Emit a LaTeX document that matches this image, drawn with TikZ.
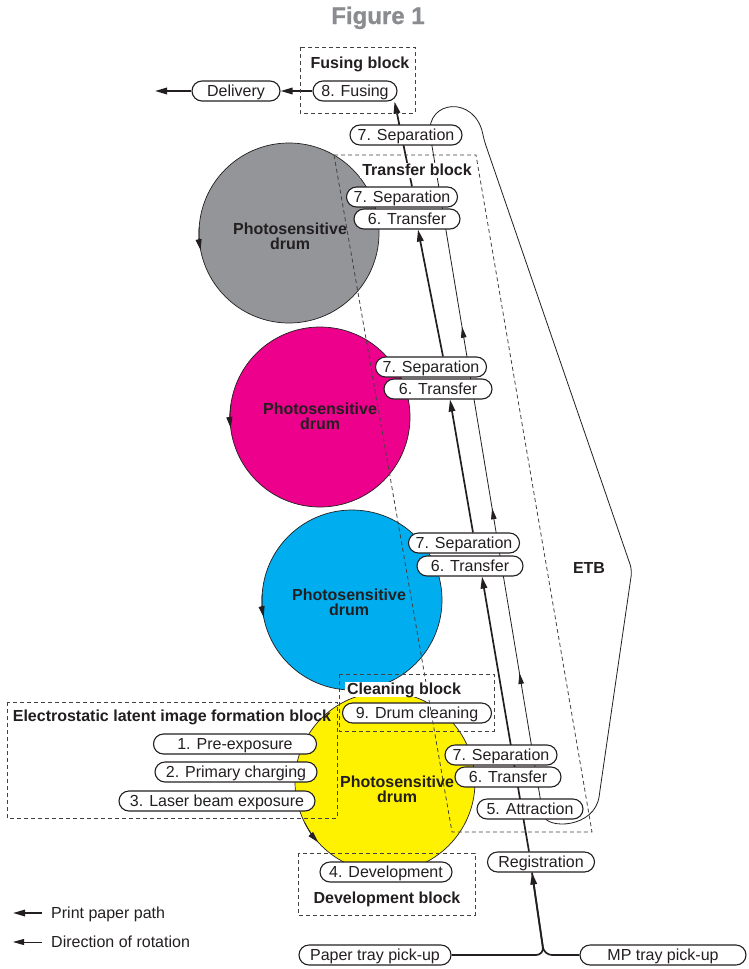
\documentclass[tikz,border=0pt]{standalone}
\usepackage{fontspec}
\setmainfont{Liberation Sans}
\newfontfamily\titlefont{Liberation Sans}[FakeBold=1]
\usetikzlibrary{arrows.meta,backgrounds,decorations.markings}
\definecolor{drumgray}{HTML}{939598}
\definecolor{drummagenta}{HTML}{EC008C}
\definecolor{drumcyan}{HTML}{00AEEF}
\definecolor{drumyellow}{HTML}{FFF200}
\definecolor{titlegray}{HTML}{8A8C8F}
\definecolor{ink}{HTML}{231F20}

\begin{document}
\begin{tikzpicture}[x=1pt,y=1pt,
  every node/.style={font=\fontsize{16}{15}\selectfont, text=ink},
  proc/.style={draw=ink, line width=1.1pt, fill=white, rounded corners=10pt, minimum height=20pt, inner sep=0pt, text height=11pt, text depth=0pt},
  blocklbl/.style={font=\fontsize{16}{15}\selectfont\bfseries, inner sep=2pt, text height=11pt, text depth=0pt},
  drum/.style={circle, draw=ink, line width=0.7pt, minimum size=180pt, inner sep=0pt, outer sep=0pt},
  drumlbl/.style={font=\fontsize{16}{15}\selectfont\bfseries, align=center, inner sep=0pt},
  blockline/.style={draw=ink!85, line width=0.8pt, dash pattern=on 4pt off 3pt},
  paperpath/.style={draw=ink, line width=1.7pt, -{Triangle[length=12pt,width=6.5pt]}},
  rotpath/.style={draw=ink, line width=0.8pt, -{Triangle[length=11pt,width=6pt]}},
  belttip/.style={decoration={markings,
    mark=at position 144pt with {\arrow{Triangle[length=11pt,width=5.5pt]}},
    mark=at position 311pt with {\arrow{Triangle[length=11pt,width=5.5pt]}},
    mark=at position 495pt with {\arrow{Triangle[length=11pt,width=5.5pt]}}},
    postaction={decorate}},
  ]
\useasboundingbox (0,0) rectangle (748,-969);

\node[font=\titlefont\bfseries\fontsize{24}{24}\selectfont, text=titlegray, text height=17pt, text depth=0pt] (title) at (378,-15.5) {Figure 1};

\node[drum, fill=drumgray] (gray) at (289,-233) {};
\node[drum, fill=drummagenta] (magenta) at (320,-417) {};
\node[drum, fill=drumcyan] (cyan) at (352,-600) {};
\node[drum, fill=drumyellow] (yellow) at (385,-782) {};
\draw[rotpath] (gray.176) arc[start angle=176, end angle=191, radius=90];
\draw[rotpath] (magenta.172) arc[start angle=172, end angle=187, radius=90];
\draw[rotpath] (cyan.176) arc[start angle=176, end angle=191, radius=90];
\draw[rotpath] (yellow.207) arc[start angle=207, end angle=222, radius=90];
\node[drumlbl] (graylbl) at (290,-236.5) {Photosensitive\\drum};
\node[drumlbl] (magentalbl) at (320,-416) {Photosensitive\\drum};
\node[drumlbl] (cyanlbl) at (349,-602) {Photosensitive\\drum};
\node[drumlbl] (yellowlbl) at (397,-789.5) {Photosensitive\\drum};

\node[proc, minimum width=88] (deliv) at (236,-91) {Delivery};
\node[proc, minimum width=84] (fusing) at (355,-91) {8. Fusing};
\node[proc, minimum width=112] (septop) at (406,-135) {7. Separation};
\node[proc, minimum width=111] (sepgray) at (402,-197) {7. Separation};
\node[proc, minimum width=106] (trgray) at (407,-219) {6. Transfer};
\node[proc, minimum width=111] (sepmag) at (431,-367) {7. Separation};
\node[proc, minimum width=108] (trmag) at (438,-389) {6. Transfer};
\node[proc, minimum width=111] (sepcyan) at (464,-543) {7. Separation};
\node[proc, minimum width=106] (trcyan) at (470,-566) {6. Transfer};
\node[proc, minimum width=112] (sepyel) at (501,-755) {7. Separation};
\node[proc, minimum width=106] (tryel) at (508,-777) {6. Transfer};
\node[proc, minimum width=106] (attract) at (530,-809) {5. Attraction};
\node[proc, minimum width=107] (regist) at (541,-862) {Registration};
\node[proc, minimum width=152] (paper) at (375,-955) {Paper tray pick-up};
\node[proc, minimum width=166] (mptray) at (663,-955) {MP tray pick-up};
\node[proc, minimum width=132] (develop) at (386,-872) {4. Development};
\node[proc, minimum width=149] (cleaning) at (417,-713) {9. Drum cleaning};
\node[proc, minimum width=163] (preexp) at (235,-744) {1. Pre-exposure};
\node[proc, minimum width=162] (charging) at (236,-772) {2. Primary charging};
\node[proc, minimum width=196] (laser) at (217,-801) {3. Laser beam exposure};

\draw[blockline] (300,-47) rectangle (415,-113);
\draw[blockline] (334,-155) -- (476,-155) -- (592,-832) -- (452,-832) -- cycle;
\draw[blockline] (339,-674) rectangle (494,-731);
\draw[blockline] (7,-702) rectangle (337,-818);
\draw[blockline] (298,-853) rectangle (475,-915);

\node[blocklbl] (fuslbl) at (360,-63) {Fusing block};
\node[blocklbl, fill=white] (trlbl) at (417,-170) {Transfer block};
\node[blocklbl, fill=white] (cllbl) at (404,-689) {Cleaning block};
\node[blocklbl] (eslbl) at (172,-716) {Electrostatic latent image formation block};
\node[blocklbl] (devlbl) at (387,-898) {Development block};
\node[blocklbl] (etb) at (589,-568) {ETB};

\node[anchor=west, inner sep=0pt, text height=11pt, text depth=0pt] (lgpaper) at (51,-913) {Print paper path};
\node[anchor=west, inner sep=0pt, text height=11pt, text depth=0pt] (lgrot) at (51,-942) {Direction of rotation};
\draw[paperpath] ([xshift=-9pt]lgpaper.west) -- ++(-29,0);
\draw[rotpath] ([xshift=-9pt]lgrot.west) -- ++(-29,0);

\begin{scope}[on background layer]
\draw[draw=ink, line width=0.8pt, rounded corners=6pt, belttip] (543,-815) -- (431,-140) .. controls (426,-100) and (475,-95) .. (484,-140) -- (632,-570) -- (600,-790) .. controls (595,-828) and (547,-830) .. (543,-815);
\coordinate (junct) at (544,-955);
\draw[paperpath, rounded corners=8pt] (paper.east) -- (junct) -- ([xshift=-9pt]regist.south);
\draw[paperpath, -, rounded corners=8pt] (mptray.west) -- (junct) -- ([xshift=-9pt]regist.south);
\draw[paperpath] ([xshift=-12pt]regist.north) -- ([xshift=12pt]trcyan.south);
\draw[paperpath] ([xshift=9pt]sepcyan.north) -- ([xshift=12pt]trmag.south);
\draw[paperpath] ([xshift=12pt]sepmag.north) -- ([xshift=11pt]trgray.south);
\draw[paperpath] ([xshift=10pt]sepgray.north) -- ([xshift=-3pt]fusing.south east);
\draw[paperpath] (fusing) -- (deliv);
\coordinate (exit) at (155,-91);
\draw[paperpath] (deliv) -- (exit);
\end{scope}
\end{tikzpicture}
\end{document}
